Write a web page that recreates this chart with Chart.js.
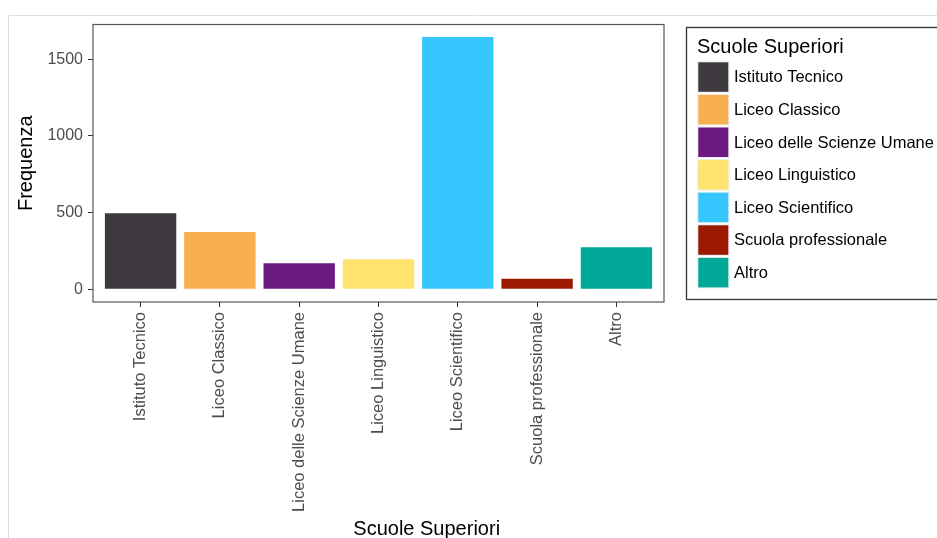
<!DOCTYPE html>
<html lang="it">
<head>
<meta charset="utf-8">
<title>Scuole Superiori</title>
<script src="https://cdn.jsdelivr.net/npm/chart.js@4/dist/chart.umd.min.js"></script>
<style>
  html, body { margin: 0; padding: 0; background: #ffffff; }
  canvas { display: block; }
</style>
</head>
<body>
<canvas id="chart" width="937" height="538"></canvas>
<script>
const categories = [
  'Istituto Tecnico',
  'Liceo Classico',
  'Liceo delle Scienze Umane',
  'Liceo Linguistico',
  'Liceo Scientifico',
  'Scuola professionale',
  'Altro'
];
const frequencies = [495, 373, 169, 195, 1645, 69, 274];
const barColors = ['#3f3a40', '#f9ae50', '#6b1a7f', '#fee36e', '#35c7fe', '#9b1a00', '#01a898'];
const yTicks = [0, 500, 1000, 1500];

const legendTitle = 'Scuole Superiori';
const xTitle = 'Scuole Superiori';
const yTitle = 'Frequenza';

const FONT = "'Liberation Sans', Arial, sans-serif";

// frame, panel border, legend box and x title
const decorations = {
    id: 'decorations',
    beforeDraw(chart) {
        const ctx = chart.ctx;
        ctx.save();
        ctx.strokeStyle = '#dedede';
        ctx.lineWidth = 1;
        ctx.beginPath();
        ctx.moveTo(8.5, 538);
        ctx.lineTo(8.5, 15.5);
        ctx.lineTo(937, 15.5);
        ctx.stroke();
        ctx.restore();
    },
    afterDraw(chart) {
        const ctx = chart.ctx;
        const area = chart.chartArea;
        ctx.save();

        // panel border
        ctx.strokeStyle = '#555555';
        ctx.lineWidth = 1.2;
        ctx.strokeRect(area.left, area.top, area.right - area.left, area.bottom - area.top);

        // x axis title
        ctx.fillStyle = '#000000';
        ctx.font = '20px ' + FONT;
        ctx.textAlign = 'center';
        ctx.textBaseline = 'alphabetic';
        ctx.fillText(xTitle, 426.7, 534.5);

        // legend
        const lx = 686.5, ly = 27.5;
        ctx.strokeStyle = '#333333';
        ctx.lineWidth = 1.3;
        ctx.strokeRect(lx, ly, 300, 272);

        ctx.textAlign = 'left';
        ctx.fillText(legendTitle, 697, 53.3);

        ctx.font = '16.5px ' + FONT;
        ctx.textBaseline = 'middle';
        categories.forEach((name, i) => {
            const y = 62.3 + i * 32.6;
            ctx.fillStyle = '#eeeeee';
            ctx.fillRect(697, y - 1, 32.5, 31.5);
            ctx.fillStyle = barColors[i];
            ctx.fillRect(698.3, y, 30, 29.5);
            ctx.fillStyle = '#000000';
            ctx.fillText(name, 734, y + 15.5);
        });

        ctx.restore();
    }
};

new Chart(document.getElementById('chart'), {
    type: 'bar',
    data: {
        datasets: [{
            label: legendTitle,
            data: frequencies.map((value, i) => ({ x: i + 1, y: value })),
            backgroundColor: barColors,
            borderWidth: 0,
            barPercentage: 0.9,
            categoryPercentage: 1,
        }]
    },
    options: {
        responsive: false,
        animation: false,
        events: [],
        layout: {
            padding: { left: 0, top: 24.5, right: 273, bottom: 0 }
        },
        plugins: {
            legend: { display: false },
            tooltip: { enabled: false },
        },
        scales: {
            x: {
                type: 'linear',
                min: 0.4,
                max: 7.6,
                offset: false,
                afterBuildTicks: (scale) => {
                    scale.ticks = categories.map((c, i) => ({ value: i + 1 }));
                },
                afterFit: (scale) => {
                    scale.height = 538 - 302;
                },
                ticks: {
                    autoSkip: false,
                    minRotation: 90,
                    maxRotation: 90,
                    padding: 5,
                    color: '#4d4d4d',
                    font: { family: FONT, size: 16.5 },
                    callback: (value, index) => categories[index],
                },
                grid: {
                    offset: false,
                    drawOnChartArea: false,
                    drawTicks: true,
                    tickLength: 5,
                    color: '#333333',
                    lineWidth: 1,
                },
                border: { display: false },
            },
            y: {
                min: -83,
                max: 1726,
                afterBuildTicks: (scale) => {
                    scale.ticks = yTicks.map(v => ({ value: v }));
                },
                afterFit: (scale) => {
                    scale.width = 93;
                },
                ticks: {
                    padding: 5,
                    color: '#4d4d4d',
                    font: { family: FONT, size: 16 },
                    callback: (value) => value,
                },
                grid: {
                    drawOnChartArea: false,
                    drawTicks: true,
                    tickLength: 5,
                    color: '#333333',
                    lineWidth: 1,
                },
                border: { display: false },
                title: {
                    display: true,
                    text: yTitle,
                    color: '#000000',
                    font: { family: FONT, size: 20, lineHeight: 1 },
                    padding: { top: 16, bottom: 0 },
                },
            }
        }
    },
    plugins: [decorations]
});
</script>
</body>
</html>
